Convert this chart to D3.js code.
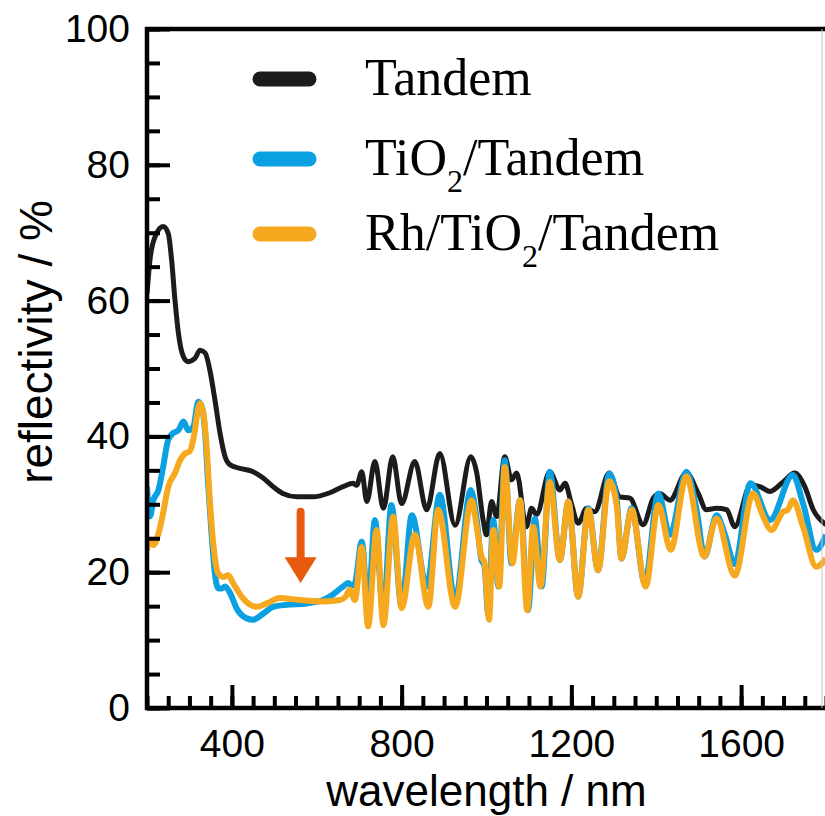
<!DOCTYPE html>
<html>
<head>
<meta charset="utf-8">
<script src="https://cdn.jsdelivr.net/npm/d3@7/dist/d3.min.js"></script>
<style>
  body { margin: 0; background: #fff; }
  #graf { width: 825px; height: 816px; }
</style>
</head>
<body>
<div id="graf"></div>
<script>
// Datos (longitud de onda en nm, reflectividad en %)
tandemNm = [200, 207, 219, 238, 250, 258, 266, 274, 286, 297, 313, 325, 337, 348, 360, 372, 384, 396, 419, 450, 473, 497, 520, 553, 591, 631, 662, 686, 694, 706, 718, 737, 757, 779, 800, 831, 859, 890, 926, 963, 977, 992, 1000, 1012, 1024, 1043, 1059, 1071, 1094, 1106, 1118, 1149, 1173, 1185, 1200, 1216, 1236, 1255, 1289, 1314, 1338, 1369, 1393, 1408, 1432, 1471, 1499, 1518, 1542, 1566, 1585, 1622, 1644, 1668, 1699, 1726, 1750, 1770, 1800]
tandemR  = [61, 66, 69.4, 70.9, 69.9, 66, 60, 55.2, 51.7, 51, 51.5, 52.7, 52.3, 49.8, 45.4, 40.5, 37, 35.8, 35.3, 34.8, 33.9, 32.6, 31.6, 31.1, 31.1, 31.7, 32.6, 33.1, 32.8, 34.8, 30.4, 36.3, 29.4, 37, 30.1, 36.3, 29.2, 37.5, 26.9, 37, 34.6, 27.7, 25.5, 30.4, 28.2, 37, 33.6, 34.6, 26.7, 29.4, 28.5, 34.8, 32.1, 33.1, 30.1, 27.2, 29.4, 28.9, 34.6, 31.1, 30.9, 27, 30.9, 31.6, 30.6, 34.6, 31.6, 29.2, 29.4, 29.2, 26.7, 32.8, 32.6, 31.9, 33.3, 34.6, 32.6, 29.2, 27]

tio2Nm = [200, 207, 215, 227, 238, 250, 262, 274, 286, 297, 309, 321, 329, 337, 344, 352, 360, 368, 376, 384, 396, 411, 435, 450, 474, 497, 529, 576, 615, 640, 662, 674, 682, 690, 706, 721, 737, 757, 776, 800, 824, 859, 890, 926, 963, 977, 988, 995, 1004, 1016, 1028, 1043, 1059, 1079, 1098, 1114, 1130, 1149, 1173, 1193, 1216, 1240, 1263, 1289, 1307, 1318, 1342, 1373, 1405, 1432, 1471, 1495, 1514, 1542, 1561, 1585, 1622, 1668, 1722, 1746, 1777, 1800]
tio2R  = [32.6, 28.2, 30.6, 32.1, 35.5, 39.5, 40.5, 40.9, 42.2, 40.9, 41.4, 45.1, 44.4, 40.5, 33.1, 25.7, 19.8, 17.6, 17.6, 17.9, 16.9, 14.7, 13.2, 13, 13.9, 14.9, 15.2, 15.4, 15.9, 16.8, 17.9, 18.4, 18, 18.4, 24.5, 14.9, 27.7, 13.9, 29.9, 14.9, 28.4, 17.9, 31.4, 15.9, 32.1, 27.7, 21.8, 21, 13.9, 27.7, 17.9, 36.5, 21.3, 30.6, 14.4, 27.9, 17.9, 34.8, 21.8, 30.4, 16.4, 29.4, 20.3, 34.5, 30.6, 22, 29.4, 18.4, 31.6, 25.5, 34.8, 29.2, 22.3, 28.4, 25.7, 21.2, 33.1, 27.7, 34.3, 30.1, 23.3, 25.5]

rhNm = [200, 207, 215, 227, 238, 250, 266, 278, 290, 301, 309, 325, 333, 341, 348, 356, 368, 380, 391, 403, 423, 443, 458, 482, 513, 560, 615, 655, 668, 678, 690, 706, 721, 741, 757, 780, 800, 831, 863, 886, 926, 965, 977, 988, 995, 1006, 1016, 1030, 1043, 1061, 1079, 1096, 1110, 1127, 1149, 1173, 1193, 1216, 1240, 1263, 1289, 1307, 1318, 1342, 1375, 1405, 1434, 1471, 1513, 1542, 1585, 1628, 1652, 1671, 1699, 1710, 1722, 1746, 1777, 1800]
rhR  = [23.3, 24.7, 24, 25.7, 28.7, 32.6, 34.6, 36.5, 37.5, 37.8, 39.5, 44.9, 43.4, 38, 30.6, 24.3, 19.8, 19.3, 19.6, 18.4, 16.4, 15.2, 14.9, 15.4, 16.2, 15.9, 15.7, 15.9, 16.4, 17.4, 15.9, 23.7, 12, 26.2, 12.2, 28.2, 14.7, 25.5, 14.9, 29.2, 14.9, 30.6, 26.7, 22.3, 21.5, 13, 26.2, 17.9, 35.5, 21.3, 30.6, 14.4, 26.7, 17.9, 33.3, 21.8, 30.4, 16.4, 29.2, 20.3, 33.4, 29.7, 22, 29.2, 17.9, 29.9, 23.3, 34.1, 22.3, 27.9, 19.5, 31.6, 28.2, 26.2, 28.9, 29.2, 30.6, 26.7, 20.8, 22]

// Etiquetas y ticks
seriesNombres = ['Tandem', 'TiO2/Tandem', 'Rh/TiO2/Tandem']
seriesColores = ['#1c1c1c', '#0aa0e2', '#f6a91f']
xTicks = [400, 800, 1200, 1600]
yTicks = [0, 20, 40, 60, 80, 100]
// flecha (nm, % inicio, % base de la punta, % punta)
flechaNm = 562
flechaR = [28.9, 22.2, 18.4]

// Medidas
ancho_total = 825
alto_total = 816
margen = { superior: 29, izquierdo: 147 }
ancho = 679
alto  = 679

svg = d3.select('#graf').append('svg')
        .attr('width', ancho_total)
        .attr('height', alto_total)

g = svg.append('g')
       .attr('transform', `translate(${ margen.izquierdo }, ${ margen.superior })`)

x = d3.scaleLinear().domain([200, 1800]).range([0, ancho])
y = d3.scaleLinear().domain([0, 100]).range([alto, 0])

// Recorte del area de dibujo
svg.append('defs').append('clipPath').attr('id', 'recorte')
   .append('rect').attr('x', 0).attr('y', 0).attr('width', ancho).attr('height', alto)

// Lineas de datos
linea = d3.line()
          .x(d => x(d[0]))
          .y(d => y(d[1]))
          .curve(d3.curveMonotoneX)

series = [
  d3.zip(tandemNm, tandemR),
  d3.zip(tio2Nm, tio2R),
  d3.zip(rhNm, rhR)
]
anchos = [5, 6, 6]

g.append('g').attr('clip-path', 'url(#recorte)')
 .selectAll('path')
 .data(series)
 .enter()
 .append('path')
 .attr('d', d => linea(d))
 .attr('fill', 'none')
 .attr('stroke', (d, i) => seriesColores[i])
 .attr('stroke-width', (d, i) => anchos[i])
 .attr('stroke-linejoin', 'round')

// Flecha naranja
fx = x(flechaNm)
g.append('line')
 .attr('x1', fx).attr('x2', fx)
 .attr('y1', y(flechaR[0])).attr('y2', y(flechaR[1]) + 2)
 .attr('stroke', '#e85a0e')
 .attr('stroke-width', 8)
 .attr('stroke-linecap', 'round')
g.append('path')
 .attr('d', `M${fx - 16},${y(flechaR[1])} L${fx + 16},${y(flechaR[1])} L${fx},${y(flechaR[2])} Z`)
 .attr('fill', '#e85a0e')

// Ejes
estiloEje = sel => {
  sel.select('.domain').remove()
  sel.selectAll('line').attr('stroke', '#000').attr('stroke-width', 4)
  sel.selectAll('text')
     .attr('fill', '#000')
     .style('font-family', '"Liberation Sans", Arial, sans-serif')
     .style('font-size', '39px')
}

g.append('g')
 .call(d3.axisLeft(y).tickValues(d3.range(0, 101, 5)).tickSize(-13).tickFormat(''))
 .call(estiloEje)
g.append('g')
 .call(d3.axisLeft(y).tickValues(yTicks).tickSize(-23).tickPadding(17))
 .call(estiloEje)
g.append('g')
 .attr('transform', `translate(0, ${ alto })`)
 .call(d3.axisBottom(x).tickValues(d3.range(200, 1801, 50)).tickSize(-12).tickFormat(''))
 .call(estiloEje)
g.append('g')
 .attr('transform', `translate(0, ${ alto })`)
 .call(d3.axisBottom(x).tickValues(xTicks).tickSize(-23).tickPadding(21).tickFormat(d3.format('d')))
 .call(estiloEje)

// Marco (arriba, izquierda, abajo) y borde derecho tenue
g.append('path')
 .attr('d', `M${ancho},0 H0 V${alto} H${ancho}`)
 .attr('fill', 'none')
 .attr('stroke', '#000')
 .attr('stroke-width', 4.5)
 .attr('stroke-linejoin', 'miter')
 .attr('stroke-linecap', 'square')
g.append('line')
 .attr('x1', ancho - 4).attr('x2', ancho - 4)
 .attr('y1', 0).attr('y2', alto)
 .attr('stroke', '#c8c8c8')
 .attr('stroke-width', 1)

// Titulos de los ejes
svg.append('text')
   .attr('x', margen.izquierdo + ancho / 2)
   .attr('y', 806)
   .attr('text-anchor', 'middle')
   .style('font-family', '"Liberation Sans", Arial, sans-serif')
   .style('font-size', '44px')
   .text('wavelength / nm')

svg.append('text')
   .attr('transform', 'translate(52, 342) rotate(-90)')
   .attr('text-anchor', 'middle')
   .style('font-family', '"Liberation Sans", Arial, sans-serif')
   .style('font-size', '46px')
   .text('reflectivity / %')

// Leyenda
leyenda = svg.append('g')
filas = [79, 159, 234]
seriesNombres.forEach((nombre, i) => {
  leyenda.append('line')
         .attr('x1', 260).attr('x2', 309)
         .attr('y1', filas[i]).attr('y2', filas[i])
         .attr('stroke', seriesColores[i])
         .attr('stroke-width', 15)
         .attr('stroke-linecap', 'round')
  t = leyenda.append('text')
             .attr('x', 365)
             .attr('y', filas[i] + 16)
             .style('font-family', '"Liberation Serif", "Times New Roman", serif')
             .style('font-size', '52px')
             .attr('fill', '#000')
  // separar el "2" como subindice
  partes = nombre.split('2')
  partes.forEach((p, j) => {
    if (j > 0) {
      t.append('tspan').attr('dy', 17).style('font-size', '32px').text('2')
      t.append('tspan').attr('dy', -17).text(p)
    } else {
      t.append('tspan').text(p)
    }
  })
})
</script>
</body>
</html>
